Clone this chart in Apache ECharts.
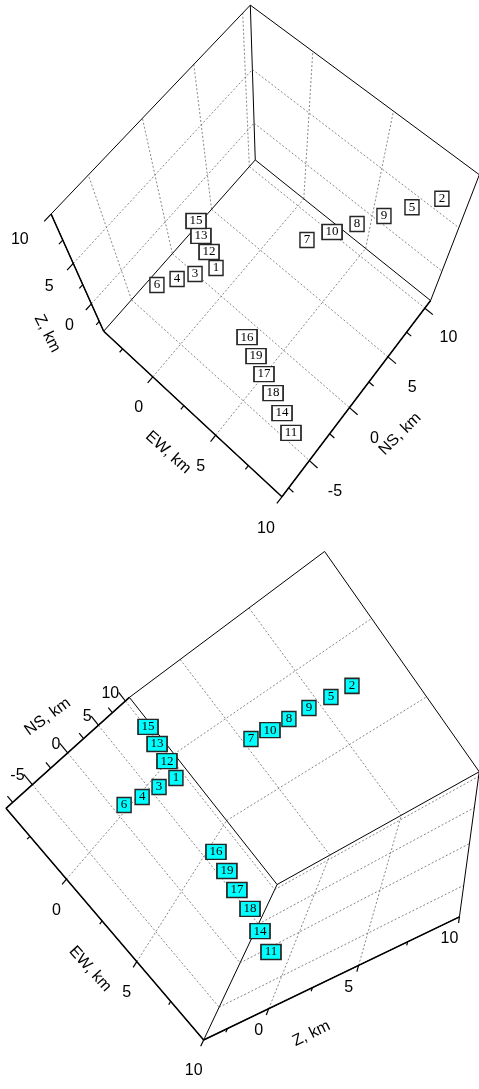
<!DOCTYPE html>
<html>
<head>
<meta charset="utf-8">
<title>Hypocenters 3D</title>
<script src="https://cdn.jsdelivr.net/npm/echarts@6/dist/echarts.min.js"></script>
<style>
html,body{margin:0;padding:0;background:#fff;}
#chart{width:479px;height:1089px;}
</style>
</head>
<body>
<div id="chart"></div>
<script>
// ---------- axes ----------
const EW_RANGE = [-4.1, 10];
const NS_RANGE = [-8.3, 10.8];
const Z_RANGE = [-4, 10];
const EW_TICKS = [0, 5, 10];
const NS_TICKS = [-5, 0, 5, 10];
const Z_TICKS = [0, 5, 10];
const EW_MINOR = [-2.5, 2.5, 7.5];
const NS_MINOR = [-7.5, -2.5, 2.5, 7.5];
const Z_MINOR = [-2.5, 2.5, 7.5];

// ---------- events ----------
const EVENT_IDS = ['1','2','3','4','5','6','7','8','9','10','11','12','13','14','15','16','17','18','19'];
// upper view (km)
const TOP_EW = [-0.02, 8.97, -0.75, -1.41, 7.49, -2.10, 3.29, 5.12, 6.13, 4.20, 8.94, -0.95, -1.95, 7.94, -2.81, 3.89, 5.89, 6.93, 4.94];
const TOP_NS = [-0.15, 9.52, -1.50, -2.62, 9.90, -3.93, 5.41, 8.26, 9.64, 6.88, -5.67, 0.44, 0.99, -5.05, 1.68, -2.58, -3.80, -4.43, -3.20];
const TOP_Z  = [-0.01, 8.00, -0.10, -0.27, 5.00, -0.34, 1.16, 2.09, 2.69, 1.57, 0.43, -0.03, -0.06, 0.39, -0.17, 0.15, 0.24, 0.41, 0.20];
// lower view (km)
const BOT_EW = [-0.08, 2.13, -0.35, -0.56, 2.12, -0.89, 1.15, 1.78, 2.08, 1.52, 8.53, -0.94, -1.85, 7.54, -2.73, 3.65, 5.53, 6.51, 4.61];
const BOT_NS = [-0.13, 9.12, -1.68, -3.02, 9.92, -4.52, 6.12, 9.24, 10.77, 7.72, -5.42, 0.43, 0.95, -4.82, 1.65, -2.46, -3.61, -4.20, -3.03];
const BOT_Z  = [0.02, 7.50, -0.32, -0.75, 6.00, -1.04, 2.19, 3.55, 4.38, 2.80, 0.58, -0.04, -0.11, 0.54, -0.22, 0.26, 0.39, 0.58, 0.34];

const RANGES = [EW_RANGE, NS_RANGE, Z_RANGE];
const TICKS = [EW_TICKS, NS_TICKS, Z_TICKS];
const MINORS = [EW_MINOR, NS_MINOR, Z_MINOR];

// ---------- camera calibration (view layout: box corners / ticks -> screen) ----------
const E0 = EW_RANGE[0], E1 = EW_RANGE[1], N0 = NS_RANGE[0], N1 = NS_RANGE[1], Z0 = Z_RANGE[0], Z1 = Z_RANGE[1];
const CAL_TOP = [
  [E0,N0,Z0,105,328],[E1,N0,Z0,283,495],[E1,N1,Z0,430,299],[E0,N1,Z0,255,160],
  [E0,N0,Z1,52,213],[E0,N1,Z1,252,5],[E1,N1,Z1,478,173],
  [0,N0,Z0,152,377],[5,N0,Z0,215,435],
  [E1,-5,Z0,310,462],[E1,0,Z0,350,408],[E1,5,Z0,388,358],[E1,10,Z0,425,310],
  [E0,N0,0,90,305],[E0,N0,5,72,267]
];
const CAL_BOT = [
  [E0,N0,Z0,8,805],[E0,N1,Z0,130,697],[E1,N0,Z0,205,1038],[E1,N0,Z1,460,917],
  [E1,N1,Z0,278,885],[E1,N1,Z1,478,770],[E0,N1,Z1,326,552],
  [E0,-5,Z0,32,785],[E0,0,Z0,67,755],[E0,5,Z0,97,727],[E0,10,Z0,125,700],
  [0,N0,Z0,65,878],[5,N0,Z0,137,963],
  [E1,N0,0,268,1010],[E1,N0,5,358,967]
];

function solveLin(M){
  const n = M.length;
  for (let c=0;c<n;c++){
    let piv=c;
    for (let r=c+1;r<n;r++) if (Math.abs(M[r][c])>Math.abs(M[piv][c])) piv=r;
    const t=M[c]; M[c]=M[piv]; M[piv]=t;
    for (let r=0;r<n;r++){
      if (r===c) continue;
      const f=M[r][c]/M[c][c];
      for (let k=c;k<=n;k++) M[r][k]-=f*M[c][k];
    }
  }
  return M.map((row,i)=>row[n]/row[i]);
}
function lstsq(A,b){
  const n=A[0].length;
  const M=Array.from({length:n},()=>new Array(n+1).fill(0));
  for (let r=0;r<A.length;r++){
    for (let i=0;i<n;i++){
      for (let j=0;j<n;j++) M[i][j]+=A[r][i]*A[r][j];
      M[i][n]+=A[r][i]*b[r];
    }
  }
  return solveLin(M);
}
const WS = 10, PS = 100;
function fitCamera(cal){
  let mx=0,my=0; cal.forEach(c=>{mx+=c[3];my+=c[4];}); mx/=cal.length; my/=cal.length;
  const A=[],b=[];
  cal.forEach(c=>{
    const X=c[0]/WS,Y=c[1]/WS,Z=c[2]/WS,x=(c[3]-mx)/PS,y=(c[4]-my)/PS;
    A.push([X,Y,Z,1,0,0,0,0,-x*X,-x*Y,-x*Z]); b.push(x);
    A.push([0,0,0,0,X,Y,Z,1,-y*X,-y*Y,-y*Z]); b.push(y);
  });
  return {p:lstsq(A,b),mx,my};
}
function project(cam,P){
  const p=cam.p, X=P[0]/WS, Y=P[1]/WS, Z=P[2]/WS;
  const d=p[8]*X+p[9]*Y+p[10]*Z+1;
  return [cam.mx+PS*(p[0]*X+p[1]*Y+p[2]*Z+p[3])/d, cam.my+PS*(p[4]*X+p[5]*Y+p[6]*Z+p[7])/d];
}
const camTop = fitCamera(CAL_TOP);
const camBot = fitCamera(CAL_BOT);

// ---------- panel definitions ----------
const FONT = '16px "Liberation Sans", Arial, sans-serif';
const PANELS = [
  { cam: camTop, faces: [[2,Z0],[0,E0],[1,N1]], fill: '#ffffff', data:[TOP_EW,TOP_NS,TOP_Z],
    axes: [
      {ax:0, base:[null,N0,Z0], dir:[0,-1,0], off3:[0,-2.14,-1.0], px:[2,4], align:'center',
       title:{at:3, off:[-22,41], rot:-42, text:'EW, km'}},
      {ax:1, base:[E1,null,Z0], dir:[1,0,0], off3:[1.93,0,-0.77], px:[0,4], align:'center',
       title:{at:2, off:[35,47], rot:45, text:'NS, km'}},
      {ax:2, base:[E0,N0,null], dir:[0,-1,0], off3:[0,-2.1,0], px:[2,0], align:'right',
       title:{at:-1.5, off:[-49,19], rot:-63, text:'Z, km'}}
    ]},
  { cam: camBot, faces: [[2,Z0],[1,N1],[0,E1]], fill: '#00ffff', data:[BOT_EW,BOT_NS,BOT_Z],
    axes: [
      {ax:0, base:[null,N0,Z0], dir:[0,-1,0], off3:[0,0,0], px:[-10,31], align:'center',
       title:{at:2.5, off:[-12,48], rot:-48, text:'EW, km'}},
      {ax:1, base:[E0,null,Z0], dir:[-1,0,0], off3:[-0.55,0,0], px:[0,0], align:'right',
       title:{at:0, off:[-20,-36], rot:36, text:'NS, km'}},
      {ax:2, base:[E1,N0,null], dir:[0,-1,0], off3:[0,0,0], px:[-10,22], align:'center',
       title:{at:2.5, off:[-1,46], rot:26, text:'Z, km'}}
    ]}
];

// ---------- build segments & texts ----------
const SEG_STYLES = [
  {stroke:'#000', lineWidth:1},                        // box edge
  {stroke:'#000', lineWidth:1.5},                      // axis
  {stroke:'#6a6a6a', lineWidth:0.8, lineDash:[2,2]},   // grid
  {stroke:'#000', lineWidth:1.2}                       // tick
];
const segs = [];
const texts = [];
function addSeg(cam,a,b,style){
  const p=project(cam,a), q=project(cam,b);
  segs.push([p[0],p[1],q[0],q[1],style]);
}
function pt(base,ax,v){ const P=base.slice(); P[ax]=v; return P; }

PANELS.forEach(panel=>{
  const cam=panel.cam;
  const edgeKeys=new Set();
  panel.faces.forEach(([k,v])=>{
    const [i,j]=[0,1,2].filter(n=>n!==k);
    [[i,j],[j,i]].forEach(([u,w])=>{
      TICKS[u].forEach(t=>{
        if (t<=RANGES[u][0]+0.01 || t>=RANGES[u][1]-0.01) return;
        const a=[0,0,0]; a[k]=v; a[u]=t; a[w]=RANGES[w][0];
        const b=a.slice(); b[w]=RANGES[w][1];
        addSeg(cam,a,b,2);
      });
    });
    [[i,j],[j,i]].forEach(([u,w])=>{
      RANGES[u].forEach(t=>{
        const a=[0,0,0]; a[k]=v; a[u]=t; a[w]=RANGES[w][0];
        const b=a.slice(); b[w]=RANGES[w][1];
        const key=a.map(x=>x.toFixed(2)).join(',')+'|'+b.map(x=>x.toFixed(2)).join(',');
        if (edgeKeys.has(key)) return; edgeKeys.add(key);
        addSeg(cam,a,b,0);
      });
    });
  });
  panel.axes.forEach(A=>{
    const r=RANGES[A.ax];
    addSeg(cam,pt(A.base,A.ax,r[0]),pt(A.base,A.ax,r[1]),1);
    const tick=(v,len)=>{
      const a=pt(A.base,A.ax,v);
      addSeg(cam,a,[a[0]+A.dir[0]*len,a[1]+A.dir[1]*len,a[2]+A.dir[2]*len],3);
    };
    TICKS[A.ax].forEach(v=>{
      tick(v,0.6);
      const a=pt(A.base,A.ax,v);
      const q=project(cam,[a[0]+A.off3[0],a[1]+A.off3[1],a[2]+A.off3[2]]);
      texts.push({x:q[0]+A.px[0], y:q[1]+A.px[1], text:String(v), align:A.align, rot:0});
    });
    MINORS[A.ax].forEach(v=>tick(v,0.35));
    const tq=project(cam,pt(A.base,A.ax,A.title.at));
    texts.push({x:tq[0]+A.title.off[0], y:tq[1]+A.title.off[1], text:A.title.text, align:'center', rot:A.title.rot});
  });
});

function eventData(panel){
  const [ew,ns,z]=panel.data;
  return EVENT_IDS.map((id,i)=>({
    name:id, value:project(panel.cam,[ew[i],ns[i],z[i]]),
    symbolSize:[id.length>1?20:14,15]
  }));
}

const chart = echarts.init(document.getElementById('chart'), null, {renderer:'canvas'});
chart.setOption({
  animation:false,
  grid:{left:0,right:0,top:0,bottom:0},
  xAxis:{type:'value',min:0,max:479,show:false},
  yAxis:{type:'value',min:0,max:1089,inverse:true,show:false},
  series:[
    {type:'custom', silent:true, z:1, data:segs,
     renderItem:(params,api)=>{
       const p=api.coord([api.value(0),api.value(1)]), q=api.coord([api.value(2),api.value(3)]);
       const st=SEG_STYLES[api.value(4)];
       return {type:'line', shape:{x1:p[0],y1:p[1],x2:q[0],y2:q[1]},
               style:Object.assign({fill:null},st)};
     }},
    {type:'custom', silent:true, z:2, data:texts.map((t,i)=>[t.x,t.y,i]),
     renderItem:(params,api)=>{
       const p=api.coord([api.value(0),api.value(1)]);
       const t=texts[api.value(2)];
       return {type:'text', x:p[0], y:p[1], rotation:t.rot*Math.PI/180,
               style:{text:t.text, fill:'#000', font:FONT, align:t.align, verticalAlign:'middle'}};
     }},
    ...PANELS.map(panel=>({
      type:'scatter', z:5, symbol:'rect', data:eventData(panel),
      itemStyle:{color:panel.fill, borderColor:'#262626', borderWidth:1.5, opacity:1},
      label:{show:true, position:'inside', formatter:'{b}', color:'#000',
             fontFamily:'"Liberation Serif", "Times New Roman", serif', fontSize:13}
    }))
  ]
});
</script>
</body>
</html>
